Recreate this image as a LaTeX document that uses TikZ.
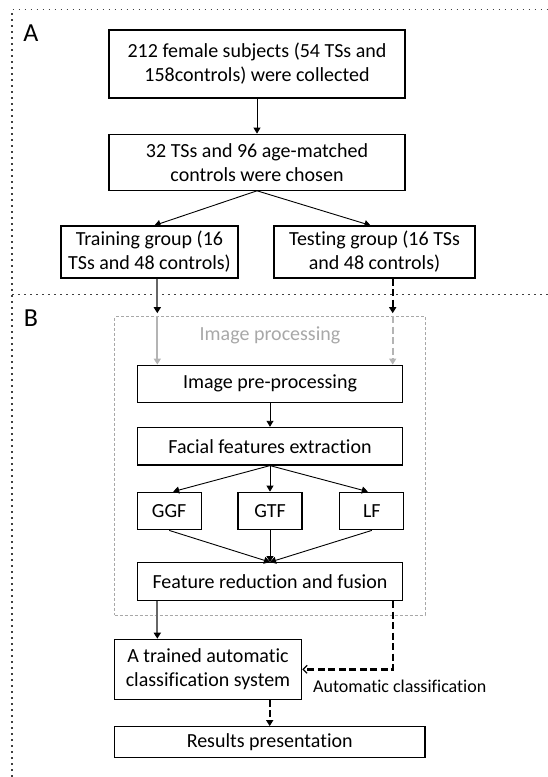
\documentclass[tikz,border=0pt]{standalone}
\usepackage{fontspec}
\setmainfont{Carlito}[RawFeature=-liga]
\usetikzlibrary{positioning,arrows.meta}

\definecolor{darkline}{HTML}{666666}
\definecolor{lightline}{HTML}{B4B4B4}
\definecolor{framegray}{HTML}{A8A8A8}

\begin{document}
\begin{tikzpicture}[
    x = 1bp, y = -1bp,
    > = {Triangle[length=6bp,width=7bp]},
    box/.style={rectangle, draw, line width=1.2bp, align=center, inner sep=0pt,
        font=\fontsize{20bp}{24bp}\selectfont},
    flow/.style={->, line width=0.9bp},
    trainline/.style={->, line width=2bp, darkline, >={Triangle[length=6bp,width=7bp,black]}},
    testline/.style={->, line width=2.4bp, dash pattern=on 7bp off 3.5bp, >={Triangle[length=6bp,width=7bp,black]}},
    innertrain/.style={->, line width=2bp, lightline},
    innertest/.style={->, line width=2bp, lightline, dash pattern=on 7bp off 3.5bp},
    panelline/.style={line width=1.6bp, black!75, dash pattern=on 1.6bp off 4.4bp},
    panellabel/.style={font=\fontsize{26bp}{30bp}\selectfont, inner sep=0pt},
    procframe/.style={rectangle, draw=framegray, line width=1bp, dash pattern=on 3bp off 2bp}
]
\useasboundingbox (0,0) rectangle (548,777);

% Panel frames
\draw[panelline] (12,777) -- (12,9.5) -- (548,9.5);
\draw[panelline] (12,294.5) -- (548,294.5);
\node[panellabel] (labA) at (31,33.5) {A};
\node[panellabel] (labB) at (31,317.7) {B};

% Column guides
\coordinate (lcol) at (157.3,0);
\coordinate (rcol) at (392.7,0);

% Panel A: subjects
\node[box, minimum width=296bp, minimum height=68bp] (collected) at (257,64) {212 female subjects (54 TSs and\\158controls) were collected};
\node[box, minimum width=296bp, minimum height=56bp] (chosen) [below=35bp of collected] {32 TSs and 96 age-matched\\controls were chosen};
\node[box, minimum width=177bp, minimum height=52bp] (train) at (149.5,252) {Training group (16\\TSs and 48 controls)};
\node[box, minimum width=201bp, minimum height=52bp] (test) at (374.5,252) {Testing group (16 TSs\\and 48 controls)};

% Panel B: image processing
\node[procframe, minimum width=310.3bp, minimum height=298.3bp] (frame) at (269.85,465.85) {};
\node[text=framegray, font=\fontsize{20bp}{24bp}\selectfont] (proctitle) at (270,335) {Image processing};
\node[box, minimum width=265bp, minimum height=37bp] (preproc) at (270,383.7) {Image pre-processing};
\node[box, minimum width=265bp, minimum height=37.6bp] (extract) [below=24bp of preproc] {Facial features extraction};
\node[box, minimum width=64bp, minimum height=37.6bp] (gtf) [below=26bp of extract] {GTF};
\node[box, minimum width=64bp, minimum height=37.6bp] (ggf) [left=35.6bp of gtf] {GGF};
\node[box, minimum width=64bp, minimum height=37.6bp] (lf) [right=36.6bp of gtf] {LF};
\node[box, minimum width=265bp, minimum height=37.7bp] (fusion) [below=31.7bp of gtf] {Feature reduction and fusion};

% Classification
\node[box, minimum width=187.4bp, minimum height=60bp] (trained) at (208,669.3) {A trained automatic\\classification system};
\node[box, minimum width=310.7bp, minimum height=31bp] (results) at (269.7,742.2) {Results presentation};
\node[anchor=west, inner sep=0pt, font=\fontsize{18bp}{22bp}\selectfont] (autolabel) at (313,686) {Automatic classification};

% Arrows in panel A
\draw[flow] (collected) -- (chosen);
\draw[flow] (chosen.south) -- ([xshift=5bp]train.north);
\draw[flow] (chosen.south) -- ([xshift=-4bp]test.north);

% Into image processing
\draw[trainline, shorten >=3bp] (lcol |- train.south) -- (lcol |- frame.north);
\draw[innertrain] (lcol |- frame.north) -- (lcol |- preproc.north);
\draw[testline, shorten >=3bp] (rcol |- test.south) -- (rcol |- frame.north);
\draw[innertest] (rcol |- frame.north) -- (rcol |- preproc.north);

% Inside image processing
\draw[flow] (preproc) -- (extract);
\draw[flow] (extract.south) -- ([xshift=4bp]ggf.north);
\draw[flow] (extract.south) -- (gtf.north);
\draw[flow] (extract.south) -- ([xshift=-4bp]lf.north);
\draw[flow] (ggf.south) -- (fusion.north);
\draw[flow] (gtf) -- (fusion);
\draw[flow] (lf.south) -- (fusion.north);

% To classification
\draw[trainline] (lcol |- fusion.south) -- (lcol |- trained.north);
\draw[line width=2.4bp, dash pattern=on 7bp off 3.5bp, -{Straight Barb[length=4bp,width=8bp,line width=1.2bp]}] (rcol |- fusion.south) |- (trained.east);
\draw[testline] (results.north |- trained.south) -- (results.north);

\end{tikzpicture}
\end{document}
